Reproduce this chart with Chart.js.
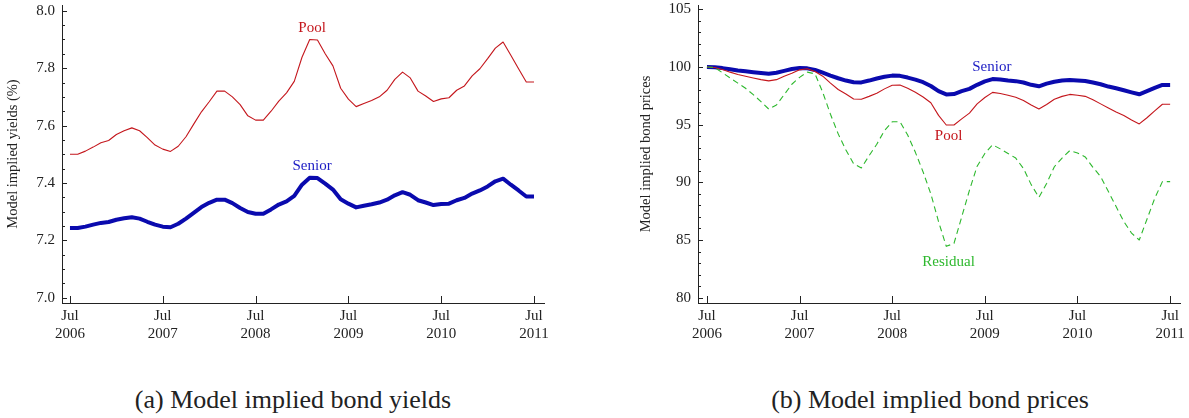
<!DOCTYPE html>
<html lang="en">
<head>
    <meta charset="UTF-8">
    <title>Model implied bond yields and prices</title>
    <script src="https://cdn.jsdelivr.net/npm/chart.js@4.4.0/dist/chart.umd.min.js"></script>
    <style>
        body { margin: 0; width: 1189px; height: 418px; background: #fff; position: relative; overflow: hidden; }
        canvas { position: absolute; top: 0; }
        #cA { left: 0; }
        #cB { left: 633px; }
        .cap { position: absolute; top: 384px; font-family: "Liberation Serif", serif; font-size: 26px; line-height: 32px; color: #222; white-space: nowrap; transform: translateX(-50%); }
    </style>
</head>
<body>
    <canvas id="cA" width="594" height="348"></canvas>
    <canvas id="cB" width="556" height="348"></canvas>
    <div class="cap" style="left: 293px;">(a) Model implied bond yields</div>
    <div class="cap" style="left: 930px;">(b) Model implied bond prices</div>

    <script>
        // monthly observations, Jul 2006 .. Jul 2011
        const months = [
            '2006-07','2006-08','2006-09','2006-10','2006-11','2006-12',
            '2007-01','2007-02','2007-03','2007-04','2007-05','2007-06',
            '2007-07','2007-08','2007-09','2007-10','2007-11','2007-12',
            '2008-01','2008-02','2008-03','2008-04','2008-05','2008-06',
            '2008-07','2008-08','2008-09','2008-10','2008-11','2008-12',
            '2009-01','2009-02','2009-03','2009-04','2009-05','2009-06',
            '2009-07','2009-08','2009-09','2009-10','2009-11','2009-12',
            '2010-01','2010-02','2010-03','2010-04','2010-05','2010-06',
            '2010-07','2010-08','2010-09','2010-10','2010-11','2010-12',
            '2011-01','2011-02','2011-03','2011-04','2011-05','2011-06',
            '2011-07'
        ];

        // (a) yields, %
        const poolYield = [
            7.500,7.500,7.511,7.525,7.540,7.548,7.569,7.582,7.592,7.582,
            7.558,7.532,7.518,7.510,7.528,7.561,7.605,7.648,7.683,7.720,
            7.720,7.700,7.673,7.634,7.619,7.619,7.650,7.685,7.714,7.754,
            7.838,7.900,7.898,7.850,7.808,7.730,7.692,7.666,7.677,7.687,
            7.700,7.723,7.761,7.786,7.766,7.720,7.703,7.684,7.693,7.697,
            7.723,7.738,7.773,7.798,7.833,7.870,7.891,7.845,7.798,7.752,
            7.752
        ];
        const seniorYield = [
            7.243,7.243,7.248,7.255,7.261,7.264,7.272,7.277,7.281,7.276,
            7.265,7.255,7.248,7.246,7.258,7.276,7.296,7.316,7.331,7.342,
            7.342,7.330,7.313,7.299,7.293,7.293,7.308,7.325,7.336,7.355,
            7.394,7.418,7.417,7.398,7.377,7.343,7.328,7.315,7.321,7.326,
            7.332,7.342,7.357,7.368,7.359,7.340,7.332,7.323,7.327,7.328,
            7.340,7.348,7.363,7.374,7.388,7.406,7.415,7.394,7.374,7.353,
            7.353
        ];

        // (b) prices
        const seniorPrice = [
            100.00,99.98,99.90,99.80,99.70,99.62,99.55,99.48,99.42,99.50,
            99.66,99.82,99.90,99.88,99.74,99.50,99.25,99.02,98.82,98.67,
            98.66,98.82,99.00,99.15,99.25,99.23,99.08,98.90,98.68,98.35,
            97.90,97.62,97.65,97.90,98.10,98.45,98.75,98.95,98.92,98.83,
            98.77,98.65,98.45,98.32,98.55,98.72,98.82,98.87,98.82,98.78,
            98.65,98.50,98.30,98.15,97.98,97.80,97.63,97.90,98.18,98.44,
            98.44
        ];
        const poolPrice = [
            100.00,99.95,99.78,99.55,99.35,99.20,99.05,98.90,98.79,98.90,
            99.20,99.45,99.75,99.85,99.60,99.20,98.60,98.05,97.65,97.22,
            97.20,97.45,97.72,98.10,98.42,98.44,98.15,97.80,97.40,96.90,
            95.80,94.97,94.97,95.50,96.00,96.80,97.35,97.80,97.70,97.55,
            97.37,97.10,96.70,96.35,96.75,97.20,97.45,97.62,97.55,97.45,
            97.15,96.80,96.45,96.10,95.80,95.40,95.06,95.60,96.20,96.77,
            96.77
        ];
        const residualPrice = [
            100.00,99.95,99.50,99.05,98.60,98.15,97.60,97.00,96.35,96.70,
            97.60,98.50,99.10,99.55,99.40,97.80,95.90,94.20,92.80,91.60,
            91.25,92.30,93.30,94.50,95.25,95.25,94.10,92.60,90.90,89.00,
            86.60,84.45,84.70,87.00,89.30,91.40,92.50,93.25,92.90,92.50,
            92.10,91.20,89.80,88.70,89.90,91.35,92.10,92.75,92.55,92.20,
            91.30,90.50,89.20,87.90,86.60,85.60,85.00,86.80,88.60,90.06,
            90.06
        ];

        const xTickIdx = [0, 12, 24, 36, 48, 60];
        const yTicksA = [7.0, 7.2, 7.4, 7.6, 7.8, 8.0];
        const yTicksB = [80, 85, 90, 95, 100, 105];

        const RED = '#c4161c', BLUE = '#0a0aae', GREEN = '#2db82d', AXIS = '#222';

        Chart.defaults.font.family = '"Liberation Serif", "Times New Roman", serif';
        Chart.defaults.color = '#222';

        function pts(arr) {
            return arr.map((v, i) => ({ x: i, y: v }));
        }

        // inward tick marks, major + minor, drawn off the chart's own scales
        function tickPlugin(minorStep) {
            return {
                id: 'inTicks',
                afterDraw(chart) {
                    const ctx = chart.ctx, a = chart.chartArea;
                    const xs = chart.scales.x, ys = chart.scales.y;
                    ctx.save();
                    ctx.strokeStyle = AXIS;
                    ctx.lineWidth = 1;
                    ctx.beginPath();
                    const majors = ys.ticks.map(t => t.value);
                    const lo = majors[0], hi = majors[majors.length - 1];
                    const n = Math.round((hi - lo) / minorStep);
                    for (let k = 0; k <= n; k++) {
                        const v = lo + k * minorStep;
                        const y = Math.round(ys.getPixelForValue(v)) + 0.5;
                        const isMajor = majors.some(m => Math.abs(m - v) < minorStep / 10);
                        ctx.moveTo(a.left, y);
                        ctx.lineTo(a.left + (isMajor ? 5 : 3), y);
                    }
                    xs.ticks.forEach(t => {
                        const x = Math.round(xs.getPixelForValue(t.value)) + 0.5;
                        ctx.moveTo(x, a.bottom);
                        ctx.lineTo(x, a.bottom - 7);
                    });
                    ctx.stroke();
                    ctx.restore();
                }
            };
        }

        // series names placed at data coordinates
        function labelPlugin(labels) {
            return {
                id: 'seriesLabels',
                afterDatasetsDraw(chart) {
                    const ctx = chart.ctx, xs = chart.scales.x, ys = chart.scales.y;
                    ctx.save();
                    ctx.font = '15px "Liberation Serif", serif';
                    ctx.textAlign = 'center';
                    ctx.textBaseline = 'middle';
                    labels.forEach(l => {
                        ctx.fillStyle = l.color;
                        ctx.fillText(l.text, xs.getPixelForValue(l.x), ys.getPixelForValue(l.y));
                    });
                    ctx.restore();
                }
            };
        }

        function xScale(min, max) {
            return {
                type: 'linear', min: min, max: max,
                afterBuildTicks: s => { s.ticks = xTickIdx.map(v => ({ value: v })); },
                afterFit: s => { s.height = 45; },
                ticks: {
                    autoSkip: false, maxRotation: 0, padding: 4,
                    font: { size: 15, lineHeight: 1.2 },
                    callback: v => ['Jul', months[v].slice(0, 4)]
                },
                grid: { display: false, drawTicks: false },
                border: { color: AXIS, width: 1 }
            };
        }

        function yScale(min, max, ticks, width, title, fmt) {
            return {
                type: 'linear', min: min, max: max,
                afterBuildTicks: s => { s.ticks = ticks.map(v => ({ value: v })); },
                afterFit: s => { s.width = width; s.paddingTop = 0; s.paddingBottom = 0; },
                ticks: { padding: 7, font: { size: 15 }, callback: fmt },
                grid: { display: false, drawTicks: false },
                border: { color: AXIS, width: 1 },
                title: { display: true, text: title, font: { size: 14.5 }, padding: { top: 4, bottom: 0 } }
            };
        }

        const common = {
            responsive: false,
            devicePixelRatio: 1,
            animation: false,
            plugins: { legend: { display: false }, tooltip: { enabled: false } },
            elements: { point: { radius: 0 }, line: { tension: 0, borderJoinStyle: 'round' } }
        };

        new Chart(document.getElementById('cA'), {
            type: 'line',
            data: {
                datasets: [
                    { label: 'Pool', data: pts(poolYield), borderColor: RED, borderWidth: 1.1 },
                    { label: 'Senior', data: pts(seniorYield), borderColor: BLUE, borderWidth: 4 }
                ]
            },
            options: Object.assign({}, common, {
                layout: { padding: { left: 0, right: 50, top: 5, bottom: 0 } },
                scales: {
                    x: xScale(-1.03, 61.29),
                    y: yScale(6.982, 8.02, yTicksA, 62, 'Model implied yields (%)', v => v.toFixed(1))
                }
            }),
            plugins: [tickPlugin(0.05), labelPlugin([
                { text: 'Pool', x: 31.3, y: 7.941, color: RED },
                { text: 'Senior', x: 31.3, y: 7.458, color: '#1c1cc4' }
            ])]
        });

        new Chart(document.getElementById('cB'), {
            type: 'line',
            data: {
                datasets: [
                    { label: 'Residual', data: pts(residualPrice), borderColor: GREEN, borderWidth: 1.1, borderDash: [6, 4] },
                    { label: 'Pool', data: pts(poolPrice), borderColor: RED, borderWidth: 1.1 },
                    { label: 'Senior', data: pts(seniorPrice), borderColor: BLUE, borderWidth: 4 }
                ]
            },
            options: Object.assign({}, common, {
                layout: { padding: { left: 0, right: 7, top: 5, bottom: 0 } },
                scales: {
                    x: xScale(-1.16, 61.29),
                    y: yScale(79.54, 105.37, yTicksB, 65, 'Model implied bond prices', v => String(v))
                }
            }),
            plugins: [tickPlugin(1), labelPlugin([
                { text: 'Senior', x: 36.9, y: 100.0, color: '#1c1cc4' },
                { text: 'Pool', x: 31.3, y: 94.02, color: RED },
                { text: 'Residual', x: 31.3, y: 83.1, color: GREEN }
            ])]
        });
    </script>
</body>
</html>
